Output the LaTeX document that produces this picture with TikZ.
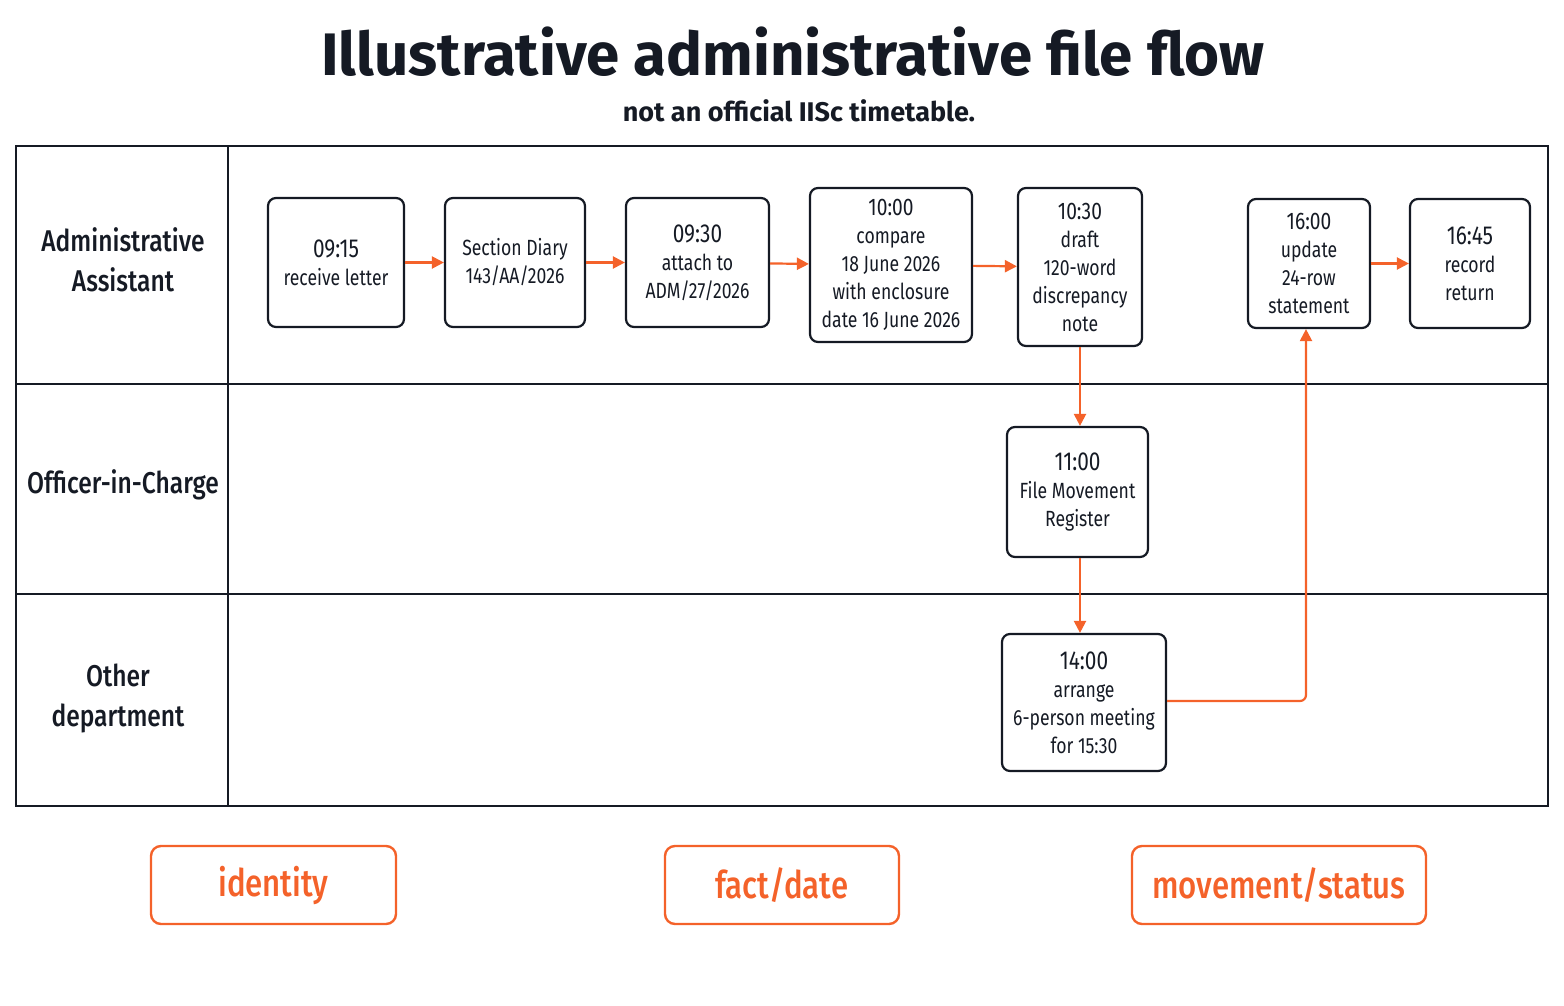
\documentclass[tikz,border=0pt]{standalone}
\usepackage{fontspec}
\setmainfont{Fira Sans}
\newfontfamily\cond[FakeStretch=0.8]{Fira Sans}
\newfontfamily\condm[FakeStretch=0.82]{Fira Sans Medium}
\usetikzlibrary{arrows.meta}
\definecolor{org}{HTML}{F4622A}
\definecolor{ink}{HTML}{151A24}
\begin{document}
\begin{tikzpicture}[x=0.5pt,y=-0.5pt,
 box/.style={draw=ink,line width=1.1pt,rounded corners=4pt,align=center,font=\cond\fontsize{11}{14}\selectfont,text=ink,inner sep=0},
 arr/.style={draw=org,line width=1.1pt,-{Triangle[length=6pt,width=6pt]}},
 lane/.style={align=center,font=\condm\fontsize{15}{20}\selectfont,text=ink},
 leg/.style={draw=org,line width=1.2pt,rounded corners=5pt,text=org,font=\condm\fontsize{19}{22}\selectfont,inner sep=0}]
\useasboundingbox (0,0) rectangle (1564,1006);
\node[font=\bfseries\fontsize{30}{34}\selectfont,text=ink] (title) at (793,52) {Illustrative administrative file flow};
\node[font=\fontsize{13.5}{16}\selectfont\bfseries,text=ink] (sub) at (799,111) {not an official IISc timetable.};
\draw[ink,line width=1.1pt] (16,146) rectangle (1548,806);
\draw[ink,line width=1.1pt] (228,146)--(228,806) (16,384)--(1548,384) (16,594)--(1548,594);
\node[lane] (l1) at (123,260) {Administrative\\Assistant};
\node[lane] (l2) at (123,485) {Officer-in-Charge};
\node[lane] (l3) at (118,698) {Other\\department};
\newcommand{\bx}[6]{\node[box,minimum width={(#4-#2)*0.5pt},minimum height={(#5-#3)*0.5pt}] (#1) at ({(#2+#4)/2},{(#3+#5)/2}) {#6};}
\bx{a}{268}{198}{404}{327}{{\fontsize{13}{16}\selectfont 09:15}\\receive letter}
\bx{b}{445}{198}{585}{327}{Section Diary\\143/AA/2026}
\bx{c}{626}{198}{769}{327}{{\fontsize{13}{16}\selectfont 09:30}\\attach to\\ADM/27/2026}
\bx{d}{810}{188}{972}{342}{{\fontsize{12}{14}\selectfont 10:00}\\compare\\18 June 2026\\with enclosure\\date 16 June 2026}
\bx{e}{1018}{188}{1142}{346}{{\fontsize{12}{14}\selectfont 10:30}\\draft\\120-word\\discrepancy\\note}
\bx{f}{1248}{199}{1370}{328}{{\fontsize{12}{14}\selectfont 16:00}\\update\\24-row\\statement}
\bx{g}{1410}{199}{1530}{328}{{\fontsize{13}{16}\selectfont 16:45}\\record\\return}
\bx{h}{1007}{427}{1148}{557}{{\fontsize{13}{16}\selectfont 11:00}\\File Movement\\Register}
\bx{i}{1002}{634}{1166}{771}{{\fontsize{13}{16}\selectfont 14:00}\\arrange\\6-person meeting\\for 15:30}
\draw[arr] (a)--(b); \draw[arr] (b)--(c); \draw[arr] (c)--(d); \draw[arr] (d)--(e); \draw[arr] (f)--(g);
\draw[arr] (e.south -| 1080,0)--(h.north -| 1080,0);
\draw[arr] (h.south -| 1080,0)--(i.north -| 1080,0);
\draw[arr,rounded corners=3pt] (i.east |- 0,701)--(1306,701)--(f.south -| 1306,0);
\node[leg,minimum width=122.5pt,minimum height=39pt] (k1) at (273.5,885) {identity};
\node[leg,minimum width=117pt,minimum height=39pt] (k2) at (782,885) {fact/date};
\node[leg,minimum width=147pt,minimum height=39pt] (k3) at (1279,885) {movement/status};
\end{tikzpicture}
\end{document}
